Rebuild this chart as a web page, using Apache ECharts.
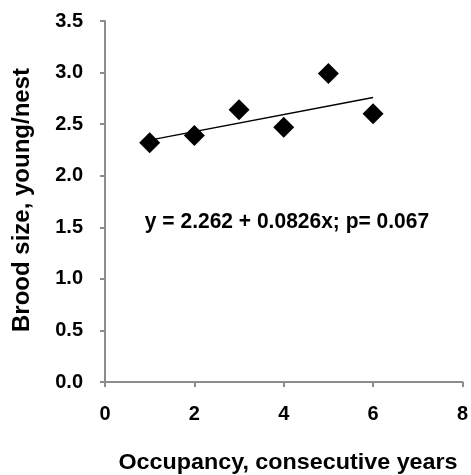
<!DOCTYPE html>
<html>
<head>
<meta charset="utf-8">
<script src="https://cdn.jsdelivr.net/npm/echarts@6/dist/echarts.min.js"></script>
<style>
  html, body { margin: 0; padding: 0; background: #fff; }
  #chart { width: 471px; height: 475px; }
</style>
</head>
<body>
<div id="chart"></div>
<script>
// occupancy (consecutive years) vs brood size
const occupancy = [1, 2, 3, 4, 5, 6]
const broodSize = [2.32, 2.39, 2.64, 2.47, 2.99, 2.60]
// fitted line endpoints, y = 2.262 + 0.0826x
const trendX = [1, 6]
const trendY = [2.345, 2.758]
const equationText = 'y = 2.262 + 0.0826x; p= 0.067'

const font = '"Liberation Sans", Arial, sans-serif'
const chart = echarts.init(document.getElementById('chart'))

chart.setOption({
  animation: false,
  grid: { left: 105, right: 4, top: 21, bottom: 93 },
  xAxis: {
    type: 'value',
    min: 0,
    max: 8,
    interval: 2,
    splitLine: { show: false },
    axisLine: { lineStyle: { color: '#8c8c8c', width: 2 } },
    axisTick: { show: true, length: 5, lineStyle: { color: '#8c8c8c', width: 2 } },
    axisLabel: { color: '#000', fontFamily: font, fontWeight: 'bold', fontSize: 20, margin: 22 }
  },
  yAxis: {
    type: 'value',
    min: 0,
    max: 3.5,
    interval: 0.5,
    splitLine: { show: false },
    axisLine: { show: true, lineStyle: { color: '#8c8c8c', width: 2 } },
    axisTick: { show: true, length: 5, lineStyle: { color: '#8c8c8c', width: 2 } },
    axisLabel: {
      color: '#000', fontFamily: font, fontWeight: 'bold', fontSize: 20, margin: 22,
      formatter: v => v.toFixed(1)
    }
  },
  graphic: [
    {
      type: 'text', x: 288, y: 463, scaleX: 1.06,
      style: { text: 'Occupancy, consecutive years', fontFamily: font, fontWeight: 'bold', fontSize: 22, fill: '#000',
        align: 'center', verticalAlign: 'middle' }
    },
    {
      type: 'text', x: 22, y: 200, rotation: Math.PI / 2,
      style: { text: 'Brood size, young/nest', fontFamily: font, fontWeight: 'bold', fontSize: 24, fill: '#000',
        align: 'center', verticalAlign: 'middle' }
    },
    {
      type: 'text', x: 287, y: 222, scaleY: 1.05,
      style: { text: equationText, fontFamily: font, fontWeight: 'bold', fontSize: 21, fill: '#000',
        align: 'center', verticalAlign: 'middle' }
    }
  ],
  series: [
    {
      type: 'line',
      data: trendX.map((x, i) => [x, trendY[i]]),
      symbol: 'none',
      lineStyle: { color: '#000', width: 1.5 },
      z: 1
    },
    {
      type: 'scatter',
      data: occupancy.map((x, i) => [x, broodSize[i]]),
      symbol: 'diamond',
      symbolSize: [21, 21],
      itemStyle: { color: '#000', opacity: 1 },
      z: 2
    }
  ]
})
</script>
</body>
</html>
